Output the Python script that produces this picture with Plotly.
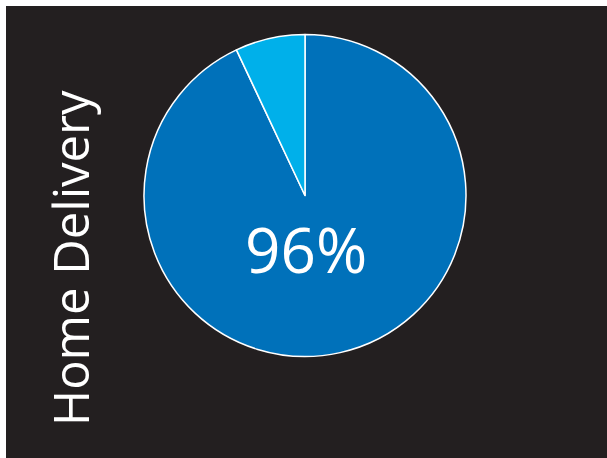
import plotly.graph_objects as go

labels = ["Home Delivery", "Other"]
values = [93, 7]
colors = ["#0071BA", "#00B0EA"]
title_text = "Home Delivery"
center_label = "96%"

W, H = 607, 458
fig = go.Figure()
fig.add_trace(go.Pie(
    labels=labels, values=values, sort=False, direction="clockwise", rotation=0,
    marker=dict(colors=colors, line=dict(color="white", width=1.5)),
    textinfo="none", hoverinfo="label+percent", showlegend=False,
    domain=dict(x=[(305 - 161) / W, (305 + 161) / W], y=[(458 - 195.5 - 161) / H, (458 - 195.5 + 161) / H]),
))
fig.add_shape(type="rect", xref="paper", yref="paper", x0=6 / W, x1=1, y0=0, y1=1 - 6 / H,
              fillcolor="#231F20", line=dict(width=0), layer="below")
fig.add_annotation(text=title_text, xref="paper", yref="paper", x=70 / W, y=1 - 258 / H,
                   showarrow=False, textangle=-90, font=dict(family="Open Sans", size=49, color="white"),
                   xanchor="center", yanchor="middle")
fig.add_annotation(text=center_label, xref="paper", yref="paper", x=306 / W, y=1 - 249 / H,
                   showarrow=False, font=dict(family="Open Sans", size=62, color="white"),
                   xanchor="center", yanchor="middle")
fig.update_layout(width=W, height=H, margin=dict(l=0, r=0, t=0, b=0), paper_bgcolor="white")
fig.write_html("out.html")
